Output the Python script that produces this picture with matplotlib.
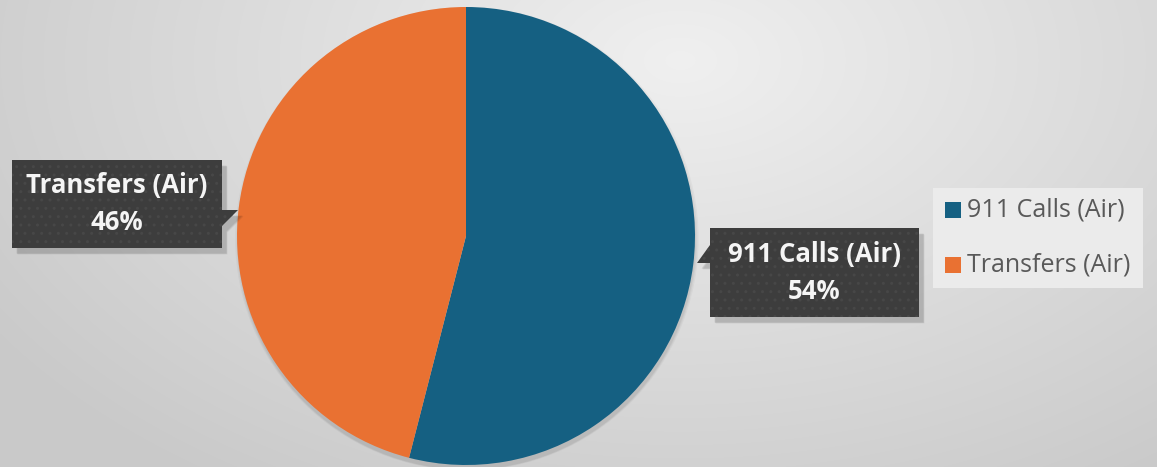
import numpy as np
import matplotlib
matplotlib.use("Agg")
import matplotlib.pyplot as plt
from matplotlib.patches import Polygon

# Data
categories = ["911 Calls (Air)", "Transfers (Air)"]
shares = [54, 46]
colors = ["#156082", "#E97132"]

W, H = 1157, 467
fig = plt.figure(figsize=(W / 100, H / 100), dpi=100)

# Background: soft radial grey gradient over the whole figure
bg = fig.add_axes([0, 0, 1, 1])
bg.set_xlim(0, W)
bg.set_ylim(H, 0)
bg.axis("off")
yy, xx = np.mgrid[0:H, 0:W]
d = np.sqrt((xx - 680) ** 2 + ((yy - 60) * 1.6) ** 2)
t = np.clip(d / 820, 0, 1)
light, dark = 0.94, 0.79
shade = light + (dark - light) * t
bg.imshow(np.dstack([shade] * 3), extent=(0, W, H, 0), zorder=0, aspect="auto")

# Pie
cx, cy, r = 466, 236, 229
pie_ax = fig.add_axes([(cx - r) / W, (H - cy - r) / H, 2 * r / W, 2 * r / H])
pie_ax.set_aspect("equal")
# faint drop shadow under the pie
for k, a in enumerate([0.03, 0.04, 0.05]):
    pie_ax.add_patch(plt.Circle((0.004, -0.012 - 0.004 * k), 1.0 + 0.006 * (2 - k),
                                facecolor="black", alpha=a, edgecolor="none",
                                clip_on=False))
wedges, _ = pie_ax.pie(shares, colors=colors, startangle=90, counterclock=False,
                       radius=1.0, wedgeprops=dict(linewidth=0))
pie_ax.set_xlim(-1, 1)
pie_ax.set_ylim(-1, 1)

# Overlay for callouts and legend (pixel coordinates)
ov = fig.add_axes([0, 0, 1, 1])
ov.set_xlim(0, W)
ov.set_ylim(H, 0)
ov.axis("off")
ov.patch.set_alpha(0)

plt.rcParams["hatch.linewidth"] = 1.0


def callout(pts, text_xy, cat, pct):
    for k, a in enumerate([0.05, 0.06, 0.08]):
        off = (3 - k)
        sh = [(x + 4 + off * 0.5, y + 5 + off * 0.5) for x, y in pts]
        ov.add_patch(Polygon(sh, closed=True, facecolor="black", alpha=a,
                             edgecolor="none", zorder=3))
    ov.add_patch(Polygon(pts, closed=True, facecolor="#3d3d3d",
                         edgecolor="#474747", hatch="..", linewidth=0, zorder=4))
    ov.text(text_xy[0], text_xy[1], f"{cat}\n{pct}%", ha="center", va="center",
            color="#f5f5f5", fontsize=18.5, fontweight="bold", family="Open Sans",
            linespacing=1.45, zorder=5)


# Transfers label (left of pie, pointer on the right edge)
callout([(12, 160), (222, 160), (222, 210), (238, 210), (222, 226),
         (222, 248), (12, 248)], (117, 204), categories[1], shares[1])

# 911 label (right of pie, pointer on the left edge)
callout([(710, 228), (919, 228), (919, 317), (710, 317), (710, 263),
         (697, 263), (710, 245)], (814, 273), categories[0], shares[0])

# Legend
ov.add_patch(plt.Rectangle((933, 188), 210, 100, facecolor="#ebebeb",
                           edgecolor="none", zorder=3))
for i, (cat, col) in enumerate(zip(categories, colors)):
    y = 210 + i * 55
    ov.add_patch(plt.Rectangle((945, y - 8), 16, 16, facecolor=col,
                               edgecolor="none", zorder=4))
    ov.text(967, y, cat, ha="left", va="center", fontsize=18,
            family="Open Sans", color="#595959", zorder=5)

fig.savefig("out.png", dpi=100)
